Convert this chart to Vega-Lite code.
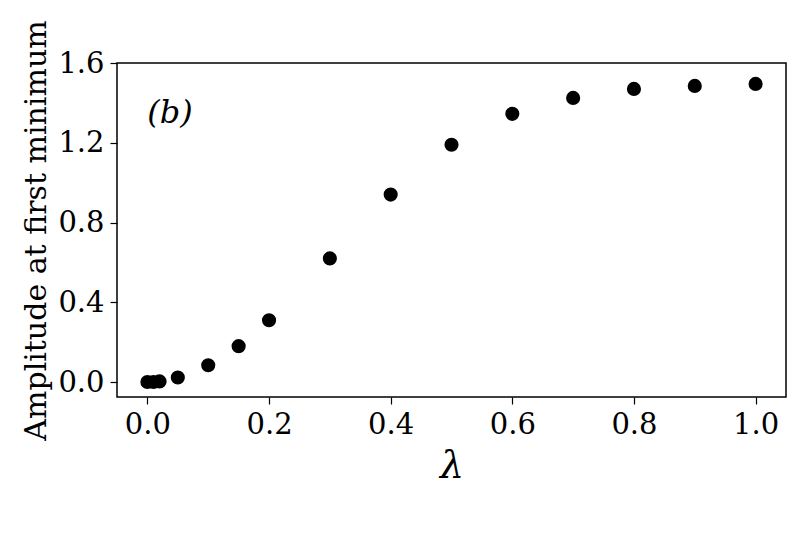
{
  "$schema": "https://vega.github.io/schema/vega-lite/v6.json",
  "width": 669,
  "height": 334,
  "autosize": {"type": "none"},
  "padding": {"left": 117, "top": 63, "right": 20, "bottom": 140},
  "background": "white",
  "config": {
    "view": {"stroke": "black", "strokeWidth": 1.5},
    "font": "DejaVu Serif",
    "axis": {
      "labelFont": "DejaVu Serif",
      "titleFont": "DejaVu Serif",
      "labelColor": "black",
      "titleColor": "black",
      "tickColor": "black",
      "domain": false,
      "grid": false,
      "tickSize": 7,
      "tickWidth": 1.2,
      "labelFontSize": 29,
      "labelPadding": 6,
      "titleFontWeight": "normal"
    }
  },
  "layer": [
    {
      "data": {
        "values": [
          {"lambda": 0.0, "amp": 0.0},
          {"lambda": 0.01, "amp": 0.0},
          {"lambda": 0.02, "amp": 0.003},
          {"lambda": 0.05, "amp": 0.023},
          {"lambda": 0.1, "amp": 0.084},
          {"lambda": 0.15, "amp": 0.18},
          {"lambda": 0.2, "amp": 0.31},
          {"lambda": 0.3, "amp": 0.62},
          {"lambda": 0.4, "amp": 0.94},
          {"lambda": 0.5, "amp": 1.19},
          {"lambda": 0.6, "amp": 1.345},
          {"lambda": 0.7, "amp": 1.425},
          {"lambda": 0.8, "amp": 1.47},
          {"lambda": 0.9, "amp": 1.485},
          {"lambda": 1.0, "amp": 1.495}
        ]
      },
      "mark": {"type": "point", "filled": true, "color": "black", "opacity": 1, "size": 200},
      "encoding": {
        "x": {
          "field": "lambda",
          "type": "quantitative",
          "scale": {"domain": [-0.05, 1.05], "nice": false, "zero": false},
          "axis": {
            "title": "λ",
            "titleFontSize": 38,
            "titleFontStyle": "italic",
            "titlePadding": 8,
            "values": [0, 0.2, 0.4, 0.6, 0.8, 1.0],
            "format": ".1f",
            "labelPadding": 6
          }
        },
        "y": {
          "field": "amp",
          "type": "quantitative",
          "scale": {"domain": [-0.075, 1.6], "nice": false, "zero": false},
          "axis": {
            "title": "Amplitude at first minimum",
            "titleFontSize": 30,
            "titlePadding": 6,
            "values": [0, 0.4, 0.8, 1.2, 1.6],
            "format": ".1f"
          }
        }
      }
    },
    {
      "data": {"values": [{"lambda": 0.037, "amp": 1.35, "label": "(b)"}]},
      "mark": {"type": "text", "fontSize": 32, "fontStyle": "italic", "font": "DejaVu Serif", "color": "black", "align": "center", "baseline": "middle"},
      "encoding": {
        "x": {"field": "lambda", "type": "quantitative"},
        "y": {"field": "amp", "type": "quantitative"},
        "text": {"field": "label"}
      }
    }
  ]
}
